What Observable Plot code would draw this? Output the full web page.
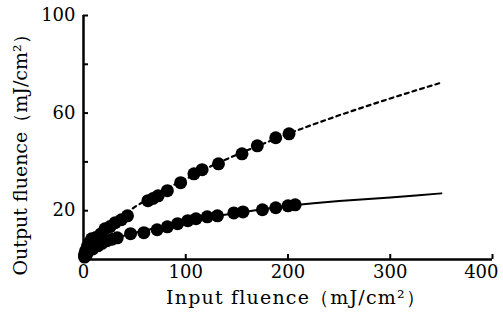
<!DOCTYPE html>
<html>
<head>
<meta charset="utf-8">
<script src="https://cdn.jsdelivr.net/npm/d3@7"></script>
<script src="https://cdn.jsdelivr.net/npm/@observablehq/plot@0.6"></script>
<style>
  html, body { margin: 0; padding: 0; background: #fff; }
</style>
</head>
<body>
<div id="chart"></div>
<script>
// Upper series (measured points, dashed fit)
const upperX = [1, 2, 4, 6, 8, 12, 17, 21, 26, 31, 37, 43, 63, 68, 73, 82, 95, 108, 116, 132, 155, 170, 188, 201];
const upperY = [2, 3.5, 5.5, 7, 8.5, 9, 10.5, 12.6, 13.5, 15.1, 16.3, 17.9, 24.1, 25, 26.1, 28.2, 31.5, 35.1, 36.8, 39.2, 43.3, 46.6, 49.9, 51.5];
// Lower series (measured points, solid fit)
const lowerX = [1, 3, 5, 9, 14, 18, 23, 28, 33, 46, 59, 72, 82, 92, 102, 110, 121, 131, 147, 156, 175, 188, 200, 207];
const lowerY = [1, 2, 3.6, 4.3, 5.6, 6.6, 7.7, 8.3, 8.9, 10.6, 11.0, 12.2, 13.4, 14.7, 15.9, 16.7, 17.5, 17.9, 19.1, 19.5, 20.4, 21.2, 22.0, 22.4];
// Fit curves
const fitX = [0, 10, 25, 50, 75, 100, 125, 150, 175, 200, 225, 250, 275, 300, 325, 350];
const fitUpperY = [0, 7.5, 13.5, 21.5, 27.8, 33, 38.3, 43, 47.3, 51.5, 55.4, 59.1, 62.6, 66, 69.3, 72.5];
const fitLowerY = [0, 5, 8, 11, 13.3, 15.6, 17.5, 19.1, 20.6, 22, 23.1, 24, 24.7, 25.4, 26.2, 27.1];
// Ticks
const xTicks = [0, 100, 200, 300, 400];
const xTicksMid = [0, 100, 200, 300];
const xTickLast = [400];
const yTicksLabeled = [20, 60, 100];
const yTicksAll = [20, 40, 60, 80, 100];
const xTitle = "Input fluence（mJ/cm²）";
const yTitle = "Output fluence（mJ/cm²）";

const upper = upperX.map((x, i) => ({x, y: upperY[i]}));
const lower = lowerX.map((x, i) => ({x, y: lowerY[i]}));
const fitU = fitX.map((x, i) => ({x, y: fitUpperY[i]}));
const fitL = fitX.map((x, i) => ({x, y: fitLowerY[i]}));

const chart = Plot.plot({
  width: 503,
  height: 320,
  marginLeft: 83,
  marginRight: 11,
  marginTop: 15,
  marginBottom: 61,
  style: {fontFamily: "'DejaVu Serif', serif", fontSize: "18px", color: "#000", background: "#fff", overflow: "visible"},
  x: {domain: [0, 400]},
  y: {domain: [0, 100]},
  marks: [
    Plot.line(fitU, {x: "x", y: "y", stroke: "#000", strokeWidth: 2.2, strokeDasharray: "4,4"}),
    Plot.line(fitL, {x: "x", y: "y", stroke: "#000", strokeWidth: 2}),
    Plot.dot(upper, {x: "x", y: "y", r: 6.5, fill: "#000"}),
    Plot.dot(lower, {x: "x", y: "y", r: 6.5, fill: "#000"}),
    Plot.ruleY([0], {x1: 0, x2: 400, stroke: "#000", strokeWidth: 2.5}),
    Plot.ruleX([0], {y1: 0, y2: 100, stroke: "#000", strokeWidth: 2.5}),
    Plot.axisX({ticks: xTicks, tickSize: -5, tickFormat: () => "", label: null, strokeWidth: 2}),
    Plot.axisX({ticks: xTicksMid, tickSize: 0, tickPadding: 6, tickFormat: d3.format("d"), label: null}),
    Plot.axisX({ticks: xTickLast, tickSize: 0, tickPadding: 6, tickFormat: d3.format("d"), textAnchor: "end", dx: 6, label: null}),
    Plot.axisY({ticks: yTicksAll, tickSize: -5, tickFormat: () => "", label: null, strokeWidth: 2}),
    Plot.axisY({ticks: yTicksLabeled, tickSize: 0, tickPadding: 8, tickFormat: d3.format("d"), label: null}),
    Plot.text([xTitle], {frameAnchor: "bottom", textAnchor: "middle", dx: 8, dy: 44, text: d => d, fontSize: 19}),
    Plot.text([yTitle], {frameAnchor: "left", textAnchor: "middle", dx: -63, dy: 13, rotate: -90, text: d => d, fontSize: 19})
  ]
});
d3.select(chart).selectAll("text").filter(function() { return this.textContent === xTitle; })
  .style("letter-spacing", "1.2px");
document.getElementById("chart").appendChild(chart);
</script>
</body>
</html>
